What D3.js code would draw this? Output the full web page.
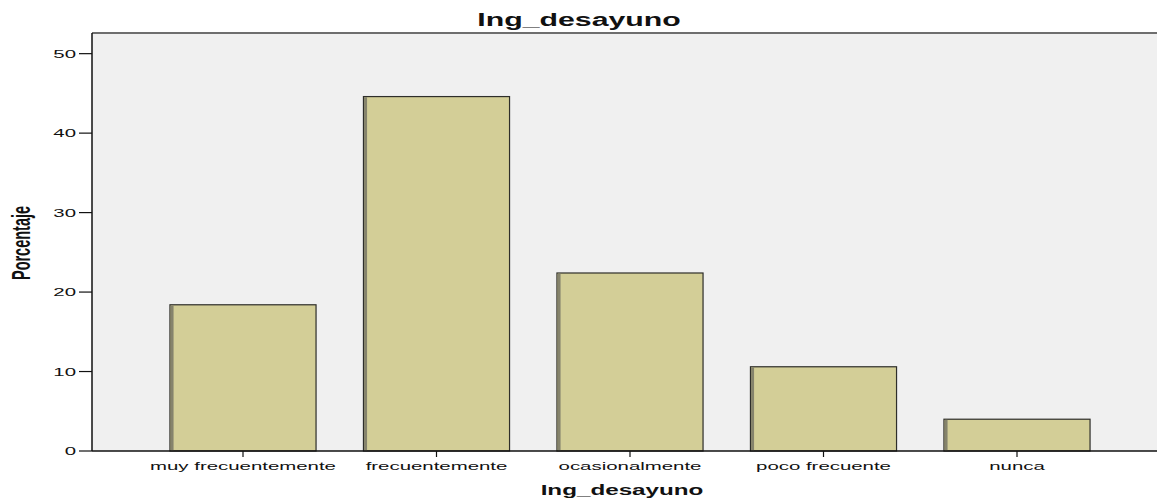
<!DOCTYPE html>
<html>
<head>
<meta charset="utf-8">
<script src="https://cdn.jsdelivr.net/npm/d3@7"></script>
<style>
  body { margin: 0; background: #fff; }
  svg { display: block; font-family: "Liberation Sans", Arial, sans-serif; }
</style>
</head>
<body>
<div id="chart"></div>
<script>
// data
const categories = ['muy frecuentemente', 'frecuentemente', 'ocasionalmente', 'poco frecuente', 'nunca'];
const percentages = [18.4, 44.6, 22.4, 10.6, 4.0];
const yTicks = [0, 10, 20, 30, 40, 50];
const chartTitle = 'Ing_desayuno';
const xTitle = 'Ing_desayuno';
const yTitle = 'Porcentaje';

const width = 1157;
const height = 499;
// the original picture is stretched sideways, so the text is too
const stretch = 1.73;

const plot = { left: 92, top: 33, right: 1157, bottom: 451 };

const svg = d3.select('#chart')
	.append('svg')
		.attr('width', width)
		.attr('height', height);

// plot background
svg.append('rect')
	.attr('x', plot.left)
	.attr('y', plot.top)
	.attr('width', plot.right - plot.left)
	.attr('height', plot.bottom - plot.top)
	.attr('fill', '#f0f0f0');

svg.append('line')
	.attr('x1', plot.left).attr('x2', plot.right)
	.attr('y1', plot.top).attr('y2', plot.top)
	.attr('stroke', '#6e6e6e')
	.attr('stroke-width', 2);

const xScale = d3.scaleBand()
	.domain(categories)
	.range([146.25, 1113.75])
	.paddingInner(0.245)
	.paddingOuter(0.1225);

const yScale = d3.scaleLinear()
	.domain([0, 52.6])
	.range([plot.bottom, plot.top]);

// stretched text helper
function label(g, x, y, txt, opts) {
	const o = Object.assign({ size: 11.8, weight: 'normal', anchor: 'middle', rotate: 0 }, opts);
	return g.append('text')
		.attr('transform', o.rotate
			? `translate(${x},${y}) rotate(${o.rotate}) scale(1,${stretch})`
			: `translate(${x},${y}) scale(${stretch},1)`)
		.attr('text-anchor', o.anchor)
		.attr('font-size', o.size)
		.attr('font-weight', o.weight)
		.attr('fill', '#111')
		.text(txt);
}

// bars
const bars = svg.append('g').attr('class', 'bars');
categories.forEach((c, i) => {
	const x = xScale(c);
	const w = xScale.bandwidth();
	const y = yScale(percentages[i]);
	const h = yScale(0) - y;
	bars.append('rect')
		.attr('x', x).attr('y', y)
		.attr('width', w).attr('height', h)
		.attr('fill', '#d3ce97')
		.attr('stroke', '#2e2e2a')
		.attr('stroke-width', 1.2);
	bars.append('rect')
		.attr('x', x + 0.6).attr('y', y + 0.6)
		.attr('width', 3).attr('height', h - 0.6)
		.attr('fill', '#85836c');
});

// y axis
const yAxis = svg.append('g').attr('class', 'y-axis');
yAxis.append('line')
	.attr('x1', plot.left).attr('x2', plot.left)
	.attr('y1', plot.top).attr('y2', plot.bottom)
	.attr('stroke', '#111').attr('stroke-width', 1.5);
yTicks.forEach(v => {
	yAxis.append('line')
		.attr('x1', plot.left - 13).attr('x2', plot.left)
		.attr('y1', yScale(v)).attr('y2', yScale(v))
		.attr('stroke', '#111').attr('stroke-width', 1.2);
	label(yAxis, plot.left - 16, yScale(v) + 4, v, { anchor: 'end' });
});

// x axis
const xAxis = svg.append('g').attr('class', 'x-axis');
xAxis.append('line')
	.attr('x1', plot.left).attr('x2', plot.right)
	.attr('y1', plot.bottom).attr('y2', plot.bottom)
	.attr('stroke', '#111').attr('stroke-width', 1.5);
categories.forEach(c => {
	const cx = xScale(c) + xScale.bandwidth() / 2;
	xAxis.append('line')
		.attr('x1', cx).attr('x2', cx)
		.attr('y1', plot.bottom).attr('y2', plot.bottom + 6)
		.attr('stroke', '#111').attr('stroke-width', 1.2);
	label(xAxis, cx, 470, c);
});

// titles
label(svg, 579, 26, chartTitle, { size: 17.5, weight: 'bold' });
label(svg, 622, 495, xTitle, { size: 14, weight: 'bold' });
label(svg, 30, 243, yTitle, { size: 14.5, weight: 'bold', rotate: -90 });
</script>
</body>
</html>
